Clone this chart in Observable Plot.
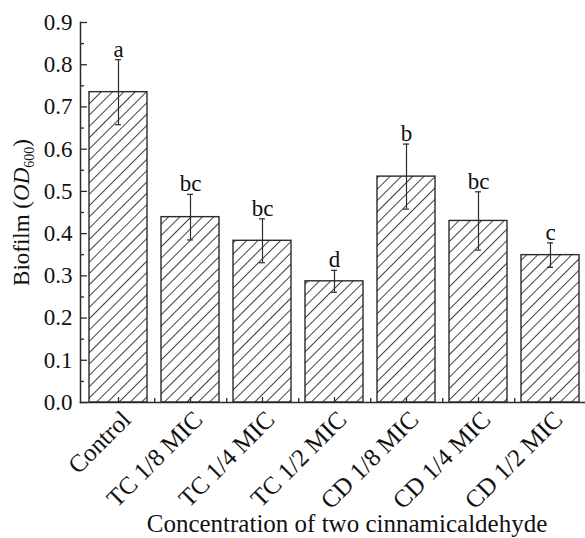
<!DOCTYPE html>
<html>
<head>
<meta charset="utf-8">
<script src="https://cdn.jsdelivr.net/npm/d3@7"></script>
<script src="https://cdn.jsdelivr.net/npm/@observablehq/plot@0.6"></script>
<style>
  html, body { margin: 0; padding: 0; background: #fff; }
  svg text { font-family: "Liberation Serif", "Times New Roman", serif; }
</style>
</head>
<body>
<div id="chart"></div>
<script>
const categories = ["Control", "TC 1/8 MIC", "TC 1/4 MIC", "TC 1/2 MIC", "CD 1/8 MIC", "CD 1/4 MIC", "CD 1/2 MIC"];
const means = [0.735, 0.439, 0.383, 0.287, 0.535, 0.430, 0.349];
const errors = [0.077, 0.054, 0.052, 0.026, 0.077, 0.069, 0.029];
const letters = ["a", "bc", "bc", "d", "b", "bc", "c"];
const yTicks = [0, 0.1, 0.2, 0.3, 0.4, 0.5, 0.6, 0.7, 0.8, 0.9];
const yMinorTicks = [0.05, 0.15, 0.25, 0.35, 0.45, 0.55, 0.65, 0.75, 0.85];
const yLabel = "Biofilm (OD600)";
const xTitle = "Concentration of two cinnamicaldehyde";

const data = categories.map((c, i) => ({cat: c, mean: means[i], err: errors[i], letter: letters[i]}));

const ink = "#2b2b2b";
const serif = "'Liberation Serif', 'Times New Roman', serif";
const step = (587 - 80) / 7;

const svg = Plot.plot({
  width: 585,
  height: 538,
  marginLeft: 80,
  marginRight: 0,
  marginTop: 22,
  marginBottom: 136,
  style: {fontFamily: serif, fontSize: "22px", color: "#111", background: "#fff"},
  x: {type: "band", domain: categories, range: [80, 587], paddingInner: 0.2, paddingOuter: 0.1},
  y: {domain: [0, 0.9]},
  marks: [
    Plot.barY(data, {x: "cat", y: "mean", fill: "url(#hatch)", stroke: ink, strokeWidth: 1.4}),
    Plot.ruleX(data, {x: "cat", y1: d => d.mean - d.err, y2: d => d.mean + d.err, stroke: ink, strokeWidth: 1.2}),
    Plot.tickY(data, {x: "cat", y: d => d.mean + d.err, stroke: ink, strokeWidth: 1.2, insetLeft: 26, insetRight: 26}),
    Plot.tickY(data, {x: "cat", y: d => d.mean - d.err, stroke: ink, strokeWidth: 1.2, insetLeft: 26, insetRight: 26}),
    Plot.text(data, {x: "cat", y: d => d.mean + d.err, text: "letter", lineAnchor: "bottom", dy: -3, fontSize: 23, fontFamily: serif, fill: "#111"}),
    // y axis labels
    Plot.axisY({ticks: yTicks, tickSize: 0, tickPadding: 8, tickFormat: d3.format(".1f"), fontSize: 23, fontFamily: serif, fontVariant: "normal", fill: "#111", label: null}),
    // y inward ticks
    Plot.axisY({ticks: yTicks, tickSize: 7, dx: 7, tickFormat: () => "", label: null, stroke: ink, strokeWidth: 1.3}),
    Plot.axisY({ticks: yMinorTicks, tickSize: 4, dx: 4, tickFormat: () => "", label: null, stroke: ink, strokeWidth: 1.3}),
    // x axis labels
    Plot.axisX({tickSize: 0, tickRotate: -45, tickPadding: 13, dx: 8, fontSize: 25, fontFamily: serif, fill: "#111", label: null}),
    // x inward ticks
    Plot.axisX({tickSize: 5, dy: -5, tickFormat: () => "", label: null, stroke: ink, strokeWidth: 1.3}),
    Plot.axisX({ticks: categories.slice(0, 6), tickSize: 4, dy: -4, dx: step / 2, tickFormat: () => "", label: null, stroke: ink, strokeWidth: 1.3}),
    Plot.frame({anchor: "left", stroke: ink, strokeWidth: 1.5}),
    Plot.frame({anchor: "bottom", stroke: ink, strokeWidth: 1.5}),
    Plot.text([yLabel], {frameAnchor: "left", textAnchor: "middle", rotate: -90, dx: -59, fontSize: 23, fontFamily: serif, fill: "#111", className: "ylab"}),
    Plot.text([xTitle], {frameAnchor: "bottom", lineAnchor: "middle", dy: 121, dx: 14, fontSize: 25, fontFamily: serif, fill: "#111"})
  ]
});

// hatch pattern
const defs = d3.select(svg).insert("defs", ":first-child");
const pat = defs.append("pattern")
  .attr("id", "hatch")
  .attr("patternUnits", "userSpaceOnUse")
  .attr("width", 8).attr("height", 8)
  .attr("patternTransform", "rotate(45)");
pat.append("rect").attr("width", 8).attr("height", 8).attr("fill", "#fff");
pat.append("line").attr("x1", 0).attr("y1", 0).attr("x2", 0).attr("y2", 8)
  .attr("stroke", "#111").attr("stroke-width", 1.6);

// italic OD with subscript 600
d3.select(svg).selectAll(".ylab text").each(function() {
  const t = d3.select(this);
  t.text(null);
  t.append("tspan").text("Biofilm (");
  t.append("tspan").attr("font-style", "italic").text("OD");
  t.append("tspan").attr("font-size", 14).attr("dy", 5).text("600");
  t.append("tspan").attr("dy", -5).text(")");
});

document.getElementById("chart").appendChild(svg);
</script>
</body>
</html>
